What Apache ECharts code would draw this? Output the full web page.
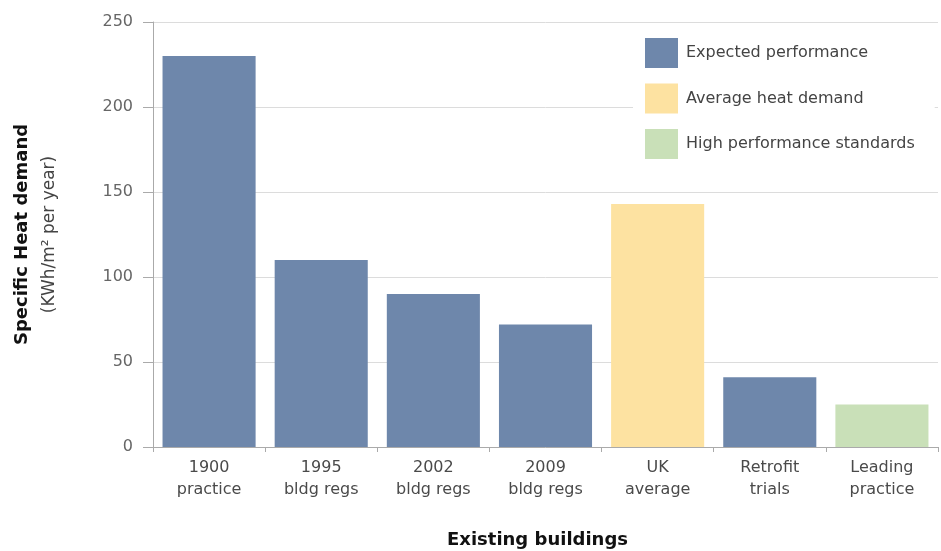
<!DOCTYPE html>
<html>
<head>
<meta charset="utf-8">
<script src="https://cdn.jsdelivr.net/npm/echarts@6/dist/echarts.min.js"></script>
<style>
html,body{margin:0;padding:0;background:#fff;}
#chart{width:941px;height:551px;}
</style>
</head>
<body>
<div id="chart"></div>
<script>
const categories = ['1900\npractice', '1995\nbldg regs', '2002\nbldg regs', '2009\nbldg regs', 'UK\naverage', 'Retrofit\ntrials', 'Leading\npractice'];
const expectedPerformance = [230, 110, 90, 72, '-', 41, '-'];
const averageHeatDemand = ['-', '-', '-', '-', 143, '-', '-'];
const highPerformance = ['-', '-', '-', '-', '-', '-', 25];
const yTicks = [0, 50, 100, 150, 200, 250];

const FONT = 'DejaVu Sans';
const chart = echarts.init(document.getElementById('chart'), null, {renderer: 'canvas'});
const barBase = {type: 'bar', barWidth: '83%', barGap: '-100%'};
chart.setOption({
  animation: false,
  backgroundColor: '#fff',
  textStyle: {fontFamily: FONT},
  grid: {left: 153, right: 3, top: 22, bottom: 104, containLabel: false, outerBoundsMode: 'none'},
  legend: {
    orient: 'vertical',
    left: 633, top: 28,
    padding: [10, 20, 12, 12],
    itemWidth: 33, itemHeight: 30, itemGap: 15.5,
    backgroundColor: '#fff',
    icon: 'rect',
    textStyle: {fontFamily: FONT, fontSize: 16, color: '#444', padding: [0, 0, 0, 3]},
    data: ['Expected performance', 'Average heat demand', 'High performance standards']
  },
  xAxis: {
    type: 'category',
    data: categories,
    name: 'Existing buildings',
    nameLocation: 'middle',
    nameGap: 84,
    nameTextStyle: {fontFamily: FONT, fontSize: 18, fontWeight: 'bold', color: '#111', padding: [0, 16, 0, 0]},
    axisLine: {lineStyle: {color: '#aaa', width: 1}},
    axisTick: {show: true, length: 5, lineStyle: {color: '#aaa'}},
    axisLabel: {fontFamily: FONT, fontSize: 16, color: '#4a4a4a', lineHeight: 22, margin: 10}
  },
  yAxis: {
    type: 'value',
    min: yTicks[0], max: yTicks[yTicks.length - 1], interval: 50,
    name: '{a|Specific Heat demand}\n{b|(KWh/m² per year)}',
    nameLocation: 'middle',
    nameRotate: 90,
    nameGap: 90,
    nameTextStyle: {
      rich: {
        a: {fontFamily: FONT, fontSize: 18, fontWeight: 'bold', color: '#111', lineHeight: 27},
        b: {fontFamily: FONT, fontSize: 17, color: '#444', lineHeight: 27}
      }
    },
    axisLine: {show: true, lineStyle: {color: '#aaa', width: 1}},
    axisTick: {show: true, length: 10, lineStyle: {color: '#aaa'}},
    axisLabel: {fontFamily: FONT, fontSize: 16, color: '#666', margin: 20},
    splitLine: {show: true, lineStyle: {color: '#dcdcdc', width: 1}}
  },
  series: [
    Object.assign({}, barBase, {name: 'Expected performance', data: expectedPerformance, itemStyle: {color: '#6e87ab'}}),
    Object.assign({}, barBase, {name: 'Average heat demand', data: averageHeatDemand, itemStyle: {color: '#fde2a1'}}),
    Object.assign({}, barBase, {name: 'High performance standards', data: highPerformance, itemStyle: {color: '#c9e0b8'}})
  ]
});
</script>
</body>
</html>
